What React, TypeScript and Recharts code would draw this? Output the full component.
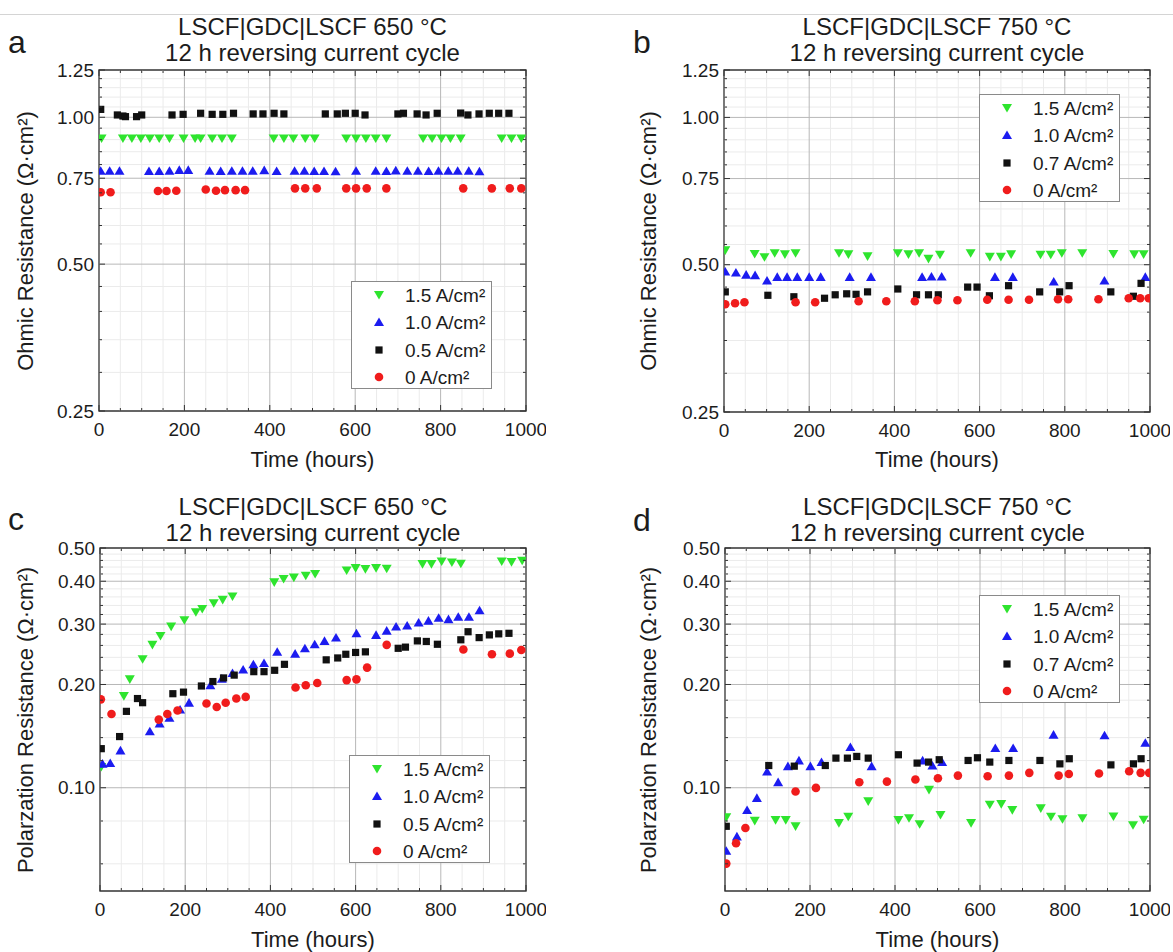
import React from "react";
import {
  ReferenceArea,
  ReferenceLine,
  Scatter,
  ScatterChart,
  XAxis,
  YAxis,
} from "recharts";

type Pt = [number, number];

// ---- panel a: ohmic resistance, 650 °C ----
const ohm650_15: Pt[] = [
  [6, 0.905], [56, 0.905], [77, 0.905], [98, 0.905], [119, 0.905], [141, 0.905],
  [165, 0.905], [198, 0.905], [225, 0.905], [238, 0.905], [265, 0.905], [288, 0.905],
  [311, 0.905], [409, 0.905], [433, 0.905], [455, 0.905], [483, 0.905], [505, 0.905],
  [579, 0.905], [602, 0.905], [625, 0.905], [648, 0.905], [673, 0.905], [759, 0.905],
  [780, 0.905], [802, 0.905], [823, 0.905], [847, 0.905], [943, 0.905], [966, 0.905],
  [989, 0.905],
];
const ohm650_10: Pt[] = [
  [4, 0.777], [25, 0.777], [48, 0.777], [117, 0.776], [141, 0.776], [165, 0.777],
  [188, 0.78], [209, 0.78], [259, 0.777], [285, 0.776], [311, 0.777], [336, 0.777],
  [360, 0.777], [387, 0.779], [416, 0.776], [458, 0.777], [481, 0.777], [504, 0.776],
  [527, 0.776], [554, 0.775], [602, 0.777], [648, 0.777], [673, 0.776], [695, 0.778],
  [722, 0.777], [747, 0.777], [772, 0.776], [795, 0.777], [818, 0.777], [840, 0.777],
  [866, 0.777], [891, 0.775],
];
const ohm650_05: Pt[] = [
  [4, 1.038], [43, 1.011], [56, 1.006], [62, 1.003], [88, 1.003], [100, 1.011],
  [171, 1.011], [197, 1.014], [238, 1.019], [265, 1.014], [290, 1.014], [315, 1.019],
  [361, 1.016], [384, 1.016], [410, 1.019], [433, 1.016], [530, 1.016], [558, 1.016],
  [577, 1.019], [600, 1.019], [623, 1.011], [700, 1.016], [713, 1.019], [745, 1.016],
  [766, 1.011], [792, 1.019], [847, 1.02], [864, 1.011], [890, 1.016], [914, 1.019],
  [936, 1.019], [960, 1.019],
];
const ohm650_00: Pt[] = [
  [4, 0.702], [27, 0.702], [138, 0.706], [158, 0.706], [181, 0.707], [250, 0.711],
  [274, 0.707], [295, 0.709], [320, 0.709], [342, 0.709], [459, 0.715], [483, 0.715],
  [510, 0.715], [579, 0.715], [602, 0.715], [627, 0.715], [673, 0.715], [853, 0.715],
  [920, 0.715], [962, 0.715], [989, 0.715],
];

// ---- panel b: ohmic resistance, 750 °C ----
const ohm750_15: Pt[] = [
  [3, 0.535], [72, 0.526], [95, 0.518], [119, 0.528], [143, 0.525], [168, 0.528],
  [270, 0.528], [292, 0.525], [337, 0.52], [408, 0.528], [433, 0.525], [458, 0.528],
  [480, 0.514], [507, 0.524], [579, 0.528], [624, 0.519], [650, 0.519], [674, 0.525],
  [743, 0.524], [767, 0.524], [793, 0.528], [841, 0.528], [914, 0.526], [963, 0.525],
  [985, 0.525],
];
const ohm750_10: Pt[] = [
  [3, 0.484], [28, 0.482], [52, 0.477], [73, 0.476], [101, 0.464], [125, 0.472],
  [148, 0.472], [172, 0.472], [200, 0.472], [227, 0.472], [295, 0.472], [345, 0.472],
  [465, 0.472], [487, 0.473], [511, 0.473], [636, 0.472], [678, 0.472], [774, 0.462],
  [893, 0.464], [989, 0.472],
];
const ohm750_07: Pt[] = [
  [3, 0.44], [103, 0.433], [164, 0.43], [236, 0.427], [261, 0.434], [288, 0.436],
  [310, 0.435], [337, 0.44], [408, 0.446], [452, 0.434], [480, 0.434], [503, 0.434],
  [572, 0.45], [594, 0.45], [623, 0.432], [668, 0.453], [741, 0.44], [788, 0.44],
  [810, 0.453], [908, 0.44], [961, 0.431], [979, 0.458],
];
const ohm750_00: Pt[] = [
  [3, 0.415], [26, 0.417], [48, 0.419], [168, 0.419], [214, 0.419], [316, 0.421],
  [381, 0.421], [448, 0.421], [501, 0.423], [548, 0.423], [618, 0.424], [668, 0.424],
  [716, 0.424], [784, 0.425], [808, 0.425], [879, 0.425], [950, 0.427], [977, 0.427],
  [997, 0.427],
];

// ---- panel c: polarization resistance, 650 °C ----
const pol650_15: Pt[] = [
  [3, 0.115], [56, 0.185], [70, 0.207], [100, 0.237], [123, 0.261], [142, 0.277],
  [167, 0.295], [198, 0.308], [225, 0.325], [240, 0.332], [267, 0.345], [288, 0.353],
  [311, 0.361], [409, 0.397], [431, 0.406], [455, 0.41], [483, 0.415], [505, 0.42],
  [579, 0.43], [600, 0.437], [623, 0.434], [648, 0.437], [673, 0.435], [757, 0.449],
  [778, 0.449], [802, 0.457], [826, 0.454], [847, 0.45], [943, 0.457], [966, 0.455],
  [991, 0.459],
];
const pol650_10: Pt[] = [
  [6, 0.1175], [24, 0.118], [48, 0.1285], [117, 0.146], [140, 0.154], [163, 0.16],
  [188, 0.169], [209, 0.177], [259, 0.199], [286, 0.208], [311, 0.216], [336, 0.221],
  [360, 0.229], [385, 0.231], [416, 0.249], [458, 0.246], [481, 0.255], [504, 0.262],
  [527, 0.268], [554, 0.274], [602, 0.282], [648, 0.279], [673, 0.287], [695, 0.295],
  [721, 0.297], [748, 0.303], [771, 0.307], [795, 0.313], [818, 0.31], [841, 0.315],
  [866, 0.315], [891, 0.329],
];
const pol650_05: Pt[] = [
  [3, 0.13], [46, 0.141], [62, 0.167], [88, 0.182], [100, 0.177], [171, 0.188],
  [196, 0.19], [238, 0.198], [265, 0.204], [290, 0.209], [315, 0.213], [361, 0.218],
  [385, 0.218], [410, 0.22], [433, 0.229], [531, 0.236], [558, 0.239], [577, 0.245],
  [600, 0.248], [623, 0.249], [700, 0.255], [717, 0.257], [745, 0.268], [766, 0.267],
  [792, 0.262], [847, 0.27], [864, 0.285], [890, 0.274], [914, 0.279], [936, 0.281],
  [960, 0.282],
];
const pol650_00: Pt[] = [
  [2, 0.181], [27, 0.164], [138, 0.158], [158, 0.164], [182, 0.168], [250, 0.176],
  [274, 0.172], [295, 0.177], [320, 0.182], [342, 0.184], [459, 0.196], [483, 0.199],
  [510, 0.202], [579, 0.206], [602, 0.207], [627, 0.224], [673, 0.261], [853, 0.253],
  [920, 0.245], [962, 0.246], [989, 0.252],
];

// ---- panel d: polarization resistance, 750 °C ----
const pol750_15: Pt[] = [
  [3, 0.082], [70, 0.0801], [119, 0.0805], [143, 0.0805], [166, 0.0772], [268, 0.0789],
  [290, 0.0823], [337, 0.0913], [408, 0.0805], [433, 0.0815], [458, 0.0783], [480, 0.0986],
  [507, 0.0833], [579, 0.0789], [623, 0.0892], [650, 0.0896], [676, 0.0861], [743, 0.0871],
  [767, 0.0823], [794, 0.081], [841, 0.0815], [914, 0.0825], [960, 0.0778], [985, 0.0807],
];
const pol750_10: Pt[] = [
  [3, 0.0655], [28, 0.0721], [52, 0.0861], [75, 0.0934], [99, 0.1115], [125, 0.1038],
  [148, 0.1156], [174, 0.1201], [201, 0.1156], [227, 0.1188], [295, 0.1314], [345, 0.1156],
  [465, 0.1201], [488, 0.1161], [511, 0.1188], [636, 0.1305], [678, 0.1305], [773, 0.1428],
  [893, 0.1422], [989, 0.1352],
];
const pol750_07: Pt[] = [
  [3, 0.0772], [103, 0.1161], [163, 0.1156], [236, 0.1161], [261, 0.122], [288, 0.122],
  [310, 0.1234], [337, 0.122], [408, 0.1248], [452, 0.118], [479, 0.1188], [504, 0.1207],
  [572, 0.1201], [594, 0.1223], [623, 0.1188], [668, 0.1201], [741, 0.1201], [788, 0.1174],
  [810, 0.1215], [908, 0.1166], [961, 0.1174], [979, 0.1215],
];
const pol750_00: Pt[] = [
  [3, 0.0601], [26, 0.0689], [48, 0.0763], [166, 0.0975], [214, 0.0999], [316, 0.1038],
  [381, 0.1042], [448, 0.1057], [501, 0.1066], [548, 0.1085], [618, 0.108], [668, 0.1085],
  [716, 0.1105], [785, 0.1085], [809, 0.1097], [880, 0.11], [951, 0.1117], [978, 0.1105],
  [998, 0.1105],
];

// ---- axes ----
const timeTicks = [0, 200, 400, 600, 800, 1000];
const timeMinor = [50, 100, 150, 250, 300, 350, 450, 500, 550, 650, 700, 750, 850, 900, 950];
const ohmTicks = [0.25, 0.5, 0.75, 1.0, 1.25];
const ohmMinor = [0.3, 0.35, 0.4, 0.45, 0.55, 0.6, 0.65, 0.7, 0.8, 0.85, 0.9, 0.95, 1.05, 1.1, 1.15, 1.2];
const polTicks = [0.1, 0.2, 0.3, 0.4, 0.5];
const polMinor = [
  0.06, 0.08, 0.12, 0.14, 0.16, 0.18, 0.22, 0.24, 0.26, 0.28, 0.32, 0.34, 0.36, 0.38,
  0.42, 0.44, 0.46, 0.48,
];

const FONT = "'Liberation Sans', Arial, sans-serif";
const TXT = "#1c1c1c";
const AX = "#333";
const GREEN = "#2ee42e";
const BLUE = "#1c1cf0";
const BLACK = "#111";
const RED = "#f01c1c";

type Kind = "down" | "up" | "square" | "circle";

function Marker({ kind, cx, cy, color }: { kind: Kind; cx: number; cy: number; color: string }) {
  if (kind === "down")
    return <polygon points={`${cx - 5},${cy - 4} ${cx + 5},${cy - 4} ${cx},${cy + 4.6}`} fill={color} />;
  if (kind === "up")
    return <polygon points={`${cx - 5},${cy + 4} ${cx + 5},${cy + 4} ${cx},${cy - 4.6}`} fill={color} />;
  if (kind === "square")
    return <rect x={cx - 3.6} y={cy - 3.6} width={7.2} height={7.2} fill={color} />;
  return <circle cx={cx} cy={cy} r={4.3} fill={color} />;
}

type Series = { name: string; data: Pt[]; kind: Kind; color: string };

type PanelDef = {
  letter: string;
  letterPos: [number, number];
  title: string;
  frame: [number, number, number, number];
  yDomain: [number, number];
  yTicks: number[];
  yMinor: number[];
  yLabel: string;
  labelX: number;
  titleBase: number;
  timeBase: number;
  legend: [number, number];
  series: Series[];
};

const mk = (a: Pt[], b: Pt[], c: Pt[], d: Pt[], mid: string): Series[] => [
  { name: "1.5 A/cm²", data: a, kind: "down", color: GREEN },
  { name: "1.0 A/cm²", data: b, kind: "up", color: BLUE },
  { name: `${mid} A/cm²`, data: c, kind: "square", color: BLACK },
  { name: "0 A/cm²", data: d, kind: "circle", color: RED },
];

const panels: PanelDef[] = [
  {
    letter: "a", letterPos: [8, 53], title: "LSCF|GDC|LSCF 650 °C",
    frame: [99, 70, 526, 411], yDomain: [0.25, 1.25], yTicks: ohmTicks, yMinor: ohmMinor,
    yLabel: "Ohmic Resistance (Ω·cm²)", labelX: 26, titleBase: 35, timeBase: 468,
    legend: [351, 281], series: mk(ohm650_15, ohm650_10, ohm650_05, ohm650_00, "0.5"),
  },
  {
    letter: "b", letterPos: [633, 53], title: "LSCF|GDC|LSCF 750 °C",
    frame: [724, 70, 1150, 412], yDomain: [0.25, 1.25], yTicks: ohmTicks, yMinor: ohmMinor,
    yLabel: "Ohmic Resistance (Ω·cm²)", labelX: 649, titleBase: 35, timeBase: 468,
    legend: [979, 94], series: mk(ohm750_15, ohm750_10, ohm750_07, ohm750_00, "0.7"),
  },
  {
    letter: "c", letterPos: [8, 530], title: "LSCF|GDC|LSCF 650 °C",
    frame: [100, 548, 526, 891], yDomain: [0.05, 0.5], yTicks: polTicks, yMinor: polMinor,
    yLabel: "Polarzation Resistance (Ω·cm²)", labelX: 26, titleBase: 515, timeBase: 948,
    legend: [349, 755], series: mk(pol650_15, pol650_10, pol650_05, pol650_00, "0.5"),
  },
  {
    letter: "d", letterPos: [633, 531], title: "LSCF|GDC|LSCF 750 °C",
    frame: [725, 548, 1150, 891], yDomain: [0.05, 0.5], yTicks: polTicks, yMinor: polMinor,
    yLabel: "Polarzation Resistance (Ω·cm²)", labelX: 649, titleBase: 515, timeBase: 948,
    legend: [979, 595], series: mk(pol750_15, pol750_10, pol750_07, pol750_00, "0.7"),
  },
];

const ML = 60;
const MT = 10;
const MR = 20;
const MB = 40;

function Panel({ p }: { p: PanelDef }) {
  const [x0, y0, x1, y1] = p.frame;
  const pw = x1 - x0;
  const ph = y1 - y0;
  const W = ML + pw + MR;
  const H = MT + ph + MB;
  const right = ML + pw;
  const majX = new Set(timeTicks);
  const majY = new Set(p.yTicks);
  const yGrid = p.yTicks.filter((v) => v > p.yDomain[0] && v < p.yDomain[1]);

  const xTick = (props: any) => {
    const { x, y, payload } = props;
    const v = payload.value;
    const major = majX.has(v);
    const len = major ? 6 : 3;
    return (
      <g>
        <line x1={x} y1={y} x2={x} y2={y - len} stroke={AX} />
        <line x1={x} y1={MT} x2={x} y2={MT + len} stroke={AX} />
        {major && (
          <text x={x} y={y + 25} textAnchor="middle" fontSize={19} fill={TXT} fontFamily={FONT}>
            {v}
          </text>
        )}
      </g>
    );
  };

  const yTick = (props: any) => {
    const { x, y, payload } = props;
    const v = payload.value;
    const major = majY.has(v);
    const len = major ? 6 : 3;
    return (
      <g>
        <line x1={x} y1={y} x2={x + len} y2={y} stroke={AX} />
        <line x1={right} y1={y} x2={right - len} y2={y} stroke={AX} />
        {major && (
          <text x={x - 5} y={y} dy="0.35em" textAnchor="end" fontSize={19} fill={TXT} fontFamily={FONT}>
            {v.toFixed(2)}
          </text>
        )}
      </g>
    );
  };

  const cx = (x0 + x1) / 2;
  const cy = (y0 + y1) / 2;
  const textStyle: React.CSSProperties = {
    position: "absolute",
    fontFamily: FONT,
    color: TXT,
    whiteSpace: "nowrap",
    lineHeight: 1,
  };

  return (
    <>
      <div style={{ position: "absolute", left: x0 - ML, top: y0 - MT }}>
        <ScatterChart width={W} height={H} margin={{ top: MT, right: MR, bottom: 0, left: 0 }}>
          {timeMinor.map((v) => (
            <ReferenceLine key={`mx${v}`} x={v} stroke="#ebebeb" />
          ))}
          {p.yMinor.map((v) => (
            <ReferenceLine key={`my${v}`} y={v} stroke="#ebebeb" />
          ))}
          {timeTicks.slice(1, -1).map((v) => (
            <ReferenceLine key={`gx${v}`} x={v} stroke="#b8b8b8" />
          ))}
          {yGrid.map((v) => (
            <ReferenceLine key={`gy${v}`} y={v} stroke="#b8b8b8" />
          ))}
          <XAxis
            type="number"
            dataKey="x"
            domain={[0, 1000]}
            ticks={[...timeTicks, ...timeMinor]}
            interval={0}
            tick={xTick}
            tickLine={false}
            axisLine={false}
            tickSize={0}
            tickMargin={0}
            height={MB}
            allowDataOverflow
          />
          <YAxis
            type="number"
            dataKey="y"
            scale="log"
            domain={p.yDomain}
            ticks={[...p.yTicks, ...p.yMinor]}
            interval={0}
            tick={yTick}
            tickLine={false}
            axisLine={false}
            tickSize={0}
            tickMargin={0}
            width={ML}
            allowDataOverflow
          />
          {p.series.map((s) => (
            <Scatter
              key={s.name}
              name={s.name}
              data={s.data.map(([x, y]) => ({ x, y }))}
              fill={s.color}
              isAnimationActive={false}
              shape={(sp: any) => <Marker kind={s.kind} cx={sp.cx} cy={sp.cy} color={s.color} />}
            />
          ))}
          <ReferenceArea
            x1={0}
            x2={1000}
            y1={p.yDomain[0]}
            y2={p.yDomain[1]}
            fill="none"
            fillOpacity={0}
            stroke={AX}
            strokeWidth={1.3}
            ifOverflow="visible"
          />
        </ScatterChart>
      </div>

      {/* legend box */}
      <div
        style={{
          position: "absolute",
          left: p.legend[0],
          top: p.legend[1],
          width: 141,
          height: 108,
          boxSizing: "border-box",
          border: "1px solid #8a8a8a",
          background: "#fff",
        }}
      >
        {p.series.map((s, i) => (
          <div key={s.name} style={{ position: "absolute", left: 0, top: 13 + i * 27.3 - 10, height: 20, width: 141 }}>
            <svg width={20} height={20} style={{ position: "absolute", left: 17, top: 0 }}>
              <Marker kind={s.kind} cx={10} cy={10} color={s.color} />
            </svg>
            <span style={{ ...textStyle, left: 53, top: 1, fontSize: 19 }}>{s.name}</span>
          </div>
        ))}
      </div>

      <div style={{ ...textStyle, left: p.letterPos[0], top: p.letterPos[1] - 27, fontSize: 32 }}>{p.letter}</div>
      <div style={{ ...textStyle, left: cx, top: p.titleBase - 20.3, fontSize: 24, transform: "translateX(-50%)" }}>
        {p.title}
      </div>
      <div style={{ ...textStyle, left: cx, top: p.titleBase + 26 - 20.3, fontSize: 24, transform: "translateX(-50%)" }}>
        12 h reversing current cycle
      </div>
      <div style={{ ...textStyle, left: cx, top: p.timeBase - 18.6, fontSize: 22, transform: "translateX(-50%)" }}>
        Time (hours)
      </div>
      <div
        style={{
          ...textStyle,
          left: p.labelX,
          top: cy,
          fontSize: 22,
          transform: "translate(-50%, -50%) rotate(-90deg)",
        }}
      >
        {p.yLabel}
      </div>
    </>
  );
}

export default function App() {
  return (
    <div
      style={{
        position: "absolute",
        left: 0,
        top: 0,
        width: 1173,
        height: 952,
        overflow: "hidden",
        background: "#fff",
      }}
    >
      <div style={{ position: "absolute", left: 0, top: 14, width: 1173, height: 1, background: "#d4d4d4" }} />
      {panels.map((p) => (
        <Panel key={p.letter} p={p} />
      ))}
    </div>
  );
}
